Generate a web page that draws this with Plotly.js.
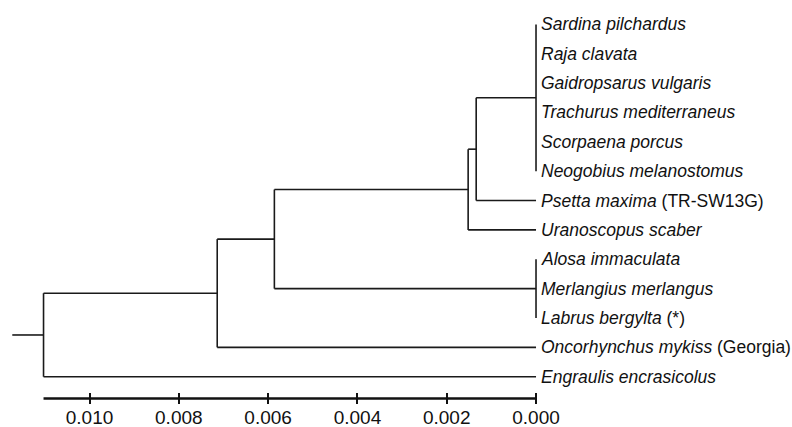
<!DOCTYPE html>
<html>
<head>
<meta charset="utf-8">
<script src="https://cdn.plot.ly/plotly-3.0.1.min.js"></script>
<style>html,body{margin:0;padding:0;background:#fff;}#chart{width:792px;height:427px;}</style>
</head>
<body>
<div id="chart"></div>
<script>
// Leaves, top to bottom
const leafLabels = [
  '<i>Sardina pilchardus</i>',
  '<i>Raja clavata</i>',
  '<i>Gaidropsarus vulgaris</i>',
  '<i>Trachurus mediterraneus</i>',
  '<i>Scorpaena porcus</i>',
  '<i>Neogobius melanostomus</i>',
  '<i>Psetta maxima</i> (TR-SW13G)',
  '<i>Uranoscopus scaber</i>',
  '<i>Alosa immaculata</i>',
  '<i>Merlangius merlangus</i>',
  '<i>Labrus bergylta</i> (*)',
  '<i>Oncorhynchus mykiss</i> (Georgia)',
  '<i>Engraulis encrasicolus</i>'
];
// Internal nodes (distance from tips) and their children
const nodeNames    = ['P1', 'A', 'B', 'P2', 'C', 'D', 'root'];
const nodeHeights  = [0, 0.00134, 0.00152, 0, 0.00586, 0.00714, 0.01103];
const nodeChildren = [[0,1,2,3,4,5], ['P1',6], ['A',7], [8,9,10], ['B','P2'], ['C',11], ['D',12]];
const rootStubEnd = 0.01173;
// Axis ticks
const tickValues = [0.010, 0.008, 0.006, 0.004, 0.002, 0.000];
const tickLabels = ['0.010', '0.008', '0.006', '0.004', '0.002', '0.000'];

// Build tree geometry
const pos = {}; // name/index -> {x, y}
leafLabels.forEach((_, i) => { pos[i] = {x: 0, y: i}; });
const xs = [], ys = [];
nodeNames.forEach((name, k) => {
  const h = nodeHeights[k];
  const kids = nodeChildren[k].map(c => pos[c]);
  const cy = kids.map(p => p.y);
  const ymin = Math.min(...cy), ymax = Math.max(...cy);
  // vertical
  xs.push(h, h, null); ys.push(ymin, ymax, null);
  // horizontals
  kids.forEach(p => { if (p.x !== h) { xs.push(h, p.x, null); ys.push(p.y, p.y, null); } });
  pos[name] = {x: h, y: (ymin + ymax) / 2};
});
xs.push(rootStubEnd, nodeHeights[nodeHeights.length - 1]);
ys.push(pos['root'].y, pos['root'].y);

const traces = [{
  type: 'scatter', mode: 'lines', x: xs, y: ys,
  line: {color: '#1a1a1a', width: 1.6}, hoverinfo: 'skip', showlegend: false
}];

const annotations = leafLabels.map((t, i) => ({
  x: 0, y: i, xref: 'x', yref: 'y', text: t, showarrow: false,
  xanchor: 'left', yanchor: 'middle', xshift: 3,
  font: {family: 'Liberation Sans, Arial, sans-serif', size: 17.5, color: '#111'}
}));

const layout = {
  width: 792, height: 427,
  margin: {l: 0, r: 0, t: 10, b: 22.5},
  paper_bgcolor: '#fff', plot_bgcolor: '#fff',
  showlegend: false,
  xaxis: {
    range: [0.012005, -0.005733],
    tickvals: tickValues, ticktext: tickLabels,
    ticks: 'inside', ticklen: 11, tickwidth: 2, tickcolor: '#111',
    showline: false, showgrid: false, zeroline: false,
    tickfont: {family: 'Liberation Sans, Arial, sans-serif', size: 19, color: '#111'},
    fixedrange: true
  },
  yaxis: {
    range: [12.929, -0.49], visible: false, showgrid: false, zeroline: false, fixedrange: true
  },
  shapes: [{
    type: 'line', xref: 'x', yref: 'y',
    x0: nodeHeights[nodeHeights.length - 1], x1: 0, y0: 12.741, y1: 12.741,
    line: {color: '#111', width: 2.6}
  }],
  annotations: annotations
};

Plotly.newPlot('chart', traces, layout, {staticPlot: true, displayModeBar: false});
</script>
</body>
</html>
